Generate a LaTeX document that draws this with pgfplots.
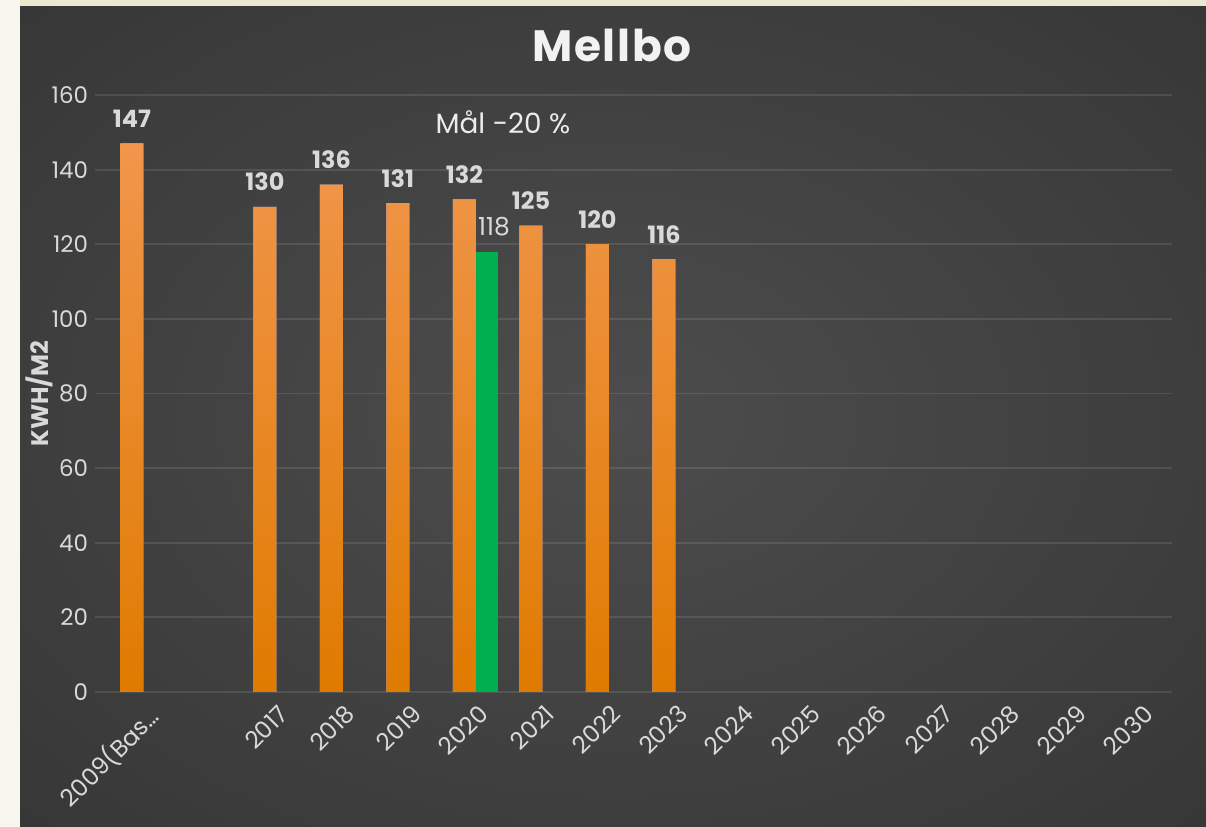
\documentclass[border=0pt]{standalone}
\usepackage{fontspec}
\setmainfont{Poppins}
\usepackage{pgfplots}
\pgfplotsset{compat=1.18}

\definecolor{beige}{HTML}{F7F6EF}
\definecolor{beigetop}{HTML}{ECE8CF}
\definecolor{bgin}{HTML}{4D4D4D}
\definecolor{bgout}{HTML}{202020}
\definecolor{orTop}{HTML}{F1964C}
\definecolor{orBot}{HTML}{E07B00}
\definecolor{grn}{HTML}{00B050}
\definecolor{lbl}{HTML}{D9D9D9}
\pgfdeclareradialshading{panel}{\pgfpoint{0bp}{0bp}}{color(0bp)=(bgin); color(72bp)=(bgout)}

\begin{document}
\begin{tikzpicture}
% page and dark panel (1 px = 0.5 bp)
\fill[beige] (0,0) rectangle (603bp,413.5bp);
\fill[beigetop] (10bp,410bp) rectangle (603bp,413.5bp);
\shade[shading=panel] (10bp,0bp) rectangle (603bp,410bp);

\begin{axis}[
    at={(47.5bp,67.5bp)}, anchor=south west,
    scale only axis, width=538.5bp, height=298.5bp,
    ymin=0, ymax=160, ytick={0,20,...,160},
    xmin=-0.556, xmax=15.64,
    xtick={0,...,15},
    xticklabels={2009(Bas…,,2017,2018,2019,2020,2021,2022,2023,2024,2025,2026,2027,2028,2029,2030},
    major tick length=0,
    axis line style={draw=none},
    ymajorgrids, grid style={white, opacity=0.1, line width=0.9bp},
    /pgf/number format/assume math mode=true,
    yticklabel style={font=\fontsize{11.5}{14}\selectfont, text=lbl},
    xticklabel style={font=\fontsize{12}{14}\selectfont, text=lbl, rotate=45,
                      anchor=north east, xshift=4bp, yshift=-5bp},
    ylabel={KWH/M2},
    ylabel style={at={(axis description cs:-0.0515,0.5)}, anchor=center,
                  font=\fontsize{12}{14}\selectfont\bfseries, text=lbl},
    title={\addfontfeatures{LetterSpace=4}Mellbo},
    title style={at={(axis description cs:0.48,1.0637)}, anchor=center,
                 font=\fontsize{22}{26}\selectfont\bfseries, text=white!95!black},
    ybar, bar width=11.5bp,
    nodes near coords,
    nodes near coords style={anchor=center, yshift=12.5bp, text=lbl},
  ]
  \addplot+[bar shift=0bp, draw=none, top color=orTop, bottom color=orBot,
            nodes near coords style={font=\fontsize{12}{14}\selectfont\bfseries}]
    coordinates {(0,147) (2,130) (3,136) (4,131) (5,132) (6,125) (7,120) (8,116)};
  \addplot+[bar shift=11.25bp, bar width=11bp, draw=none, fill=grn,
            nodes near coords style={font=\fontsize{12.5}{14}\selectfont, xshift=3.5bp}]
    coordinates {(5,118)};
  \node[text=white!92!black, font=\fontsize{14}{16}\selectfont]
    at (axis description cs:0.3788,0.9548) {Mål -20 \%};
\end{axis}
\end{tikzpicture}
\end{document}
